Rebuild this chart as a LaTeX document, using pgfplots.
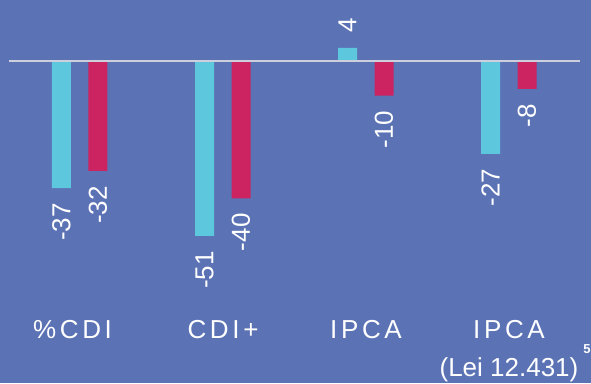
\documentclass[border=0pt]{standalone}
\usepackage{pgfplots}
\pgfplotsset{compat=1.18}
\usepackage{pgfplotstable}
\usepackage{fontspec}
\setmainfont{Liberation Sans}
\newfontfamily\spaced[LetterSpace=14]{Liberation Sans}
\definecolor{bg}{RGB}{91,115,181}
\definecolor{cy}{RGB}{93,199,221}
\definecolor{cr}{RGB}{203,36,96}
\definecolor{zl}{RGB}{205,208,220}

\pgfplotstableread{
x c1 c2
0 -37 -32
1 -51 -40
2 4 -10
3 -27 -8
}\data

\begin{document}
\begin{tikzpicture}
\begin{axis}[name=ax, scale only axis, width=591pt, height=383pt,
 xmin=-0.5594, xmax=3.5734, ymin=-94.0, ymax=17.98,
 axis line style={draw=none}, ytick=\empty, xtick={0,1,2,3},
 major tick length=0pt,
 xticklabels={{\spaced \%CDI\kern15pt}, {\spaced CDI+}, {\spaced IPCA}, {{\spaced IPCA}\\(Lei 12.431)\rlap{\hspace{5pt}\raisebox{23pt}{\fontsize{13}{13}\selectfont\bfseries 5}}}},
 xticklabel style={anchor=north, inner sep=0pt, yshift=63pt, font=\fontsize{26}{38}\selectfont, text=white, align=center},
 axis background/.style={fill=bg},
 clip=false,
 ybar, bar width=19pt,
 nodes near coords={\pgfplotspointmeta},
 point meta=explicit symbolic,
 visualization depends on={rawy \as \rawy},
 every node near coord/.append style={rotate=90, inner xsep=15pt, inner ysep=0pt, font=\fontsize{26}{26}\selectfont, text=white},
 every node near coord/.append code={\pgfmathparse{\rawy<0}\ifdim\pgfmathresult pt>0.5pt \pgfkeysalso{anchor=east}\else\pgfkeysalso{anchor=west}\fi},
]
\addplot[fill=cy, draw=none, bar shift=-18.5pt] table[x=x, y=c1, meta=c1]{\data};
\addplot[fill=cr, draw=none, bar shift=18pt] table[x=x, y=c2, meta=c2]{\data};
\draw[zl, line width=2pt] (axis cs:-0.497,0) -- (axis cs:3.497,0);
\end{axis}
\pgfresetboundingbox
\useasboundingbox (ax.south west) rectangle (ax.north east);
\end{tikzpicture}
\end{document}
